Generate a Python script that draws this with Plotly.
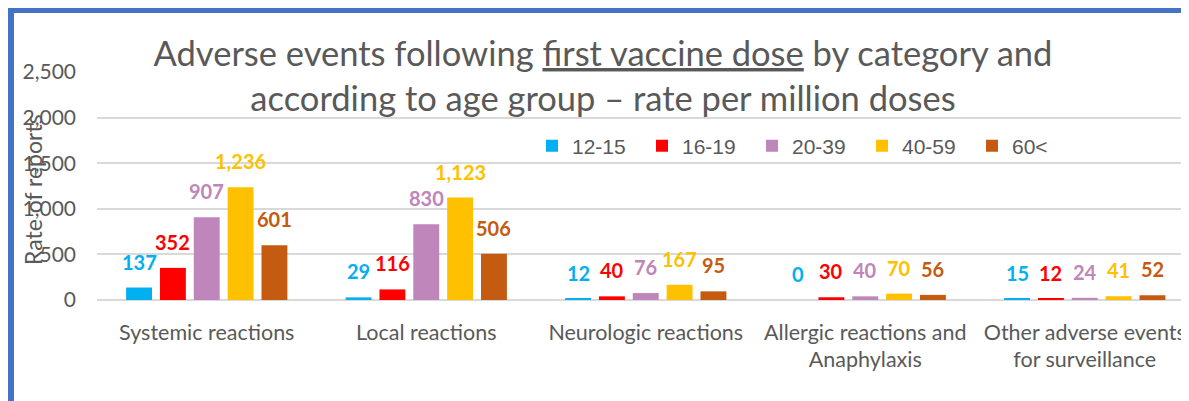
import plotly.graph_objects as go

categories = [
    "Systemic reactions",
    "Local reactions",
    "Neurologic reactions",
    "Allergic reactions and<br>Anaphylaxis",
    "Other adverse events<br>for surveillance",
]
age_groups = ["12-15", "16-19", "20-39", "40-59", "60<"]
rates = {
    "12-15": [137, 29, 12, 0, 15],
    "16-19": [352, 116, 40, 30, 12],
    "20-39": [907, 830, 76, 40, 24],
    "40-59": [1236, 1123, 167, 70, 41],
    "60<": [601, 506, 95, 56, 52],
}
y_ticks = [0, 500, 1000, 1500, 2000, 2500]

COLORS = {
    "12-15": "#00B0F0",
    "16-19": "#FF0000",
    "20-39": "#BE86BA",
    "40-59": "#FFC000",
    "60<": "#C55A11",
}
GRAY = "#595959"
GRID = "#D9D9D9"
BORDER = "#4472C4"
FONT = "Lato, Open Sans, sans-serif"

# the page puts the figure 8px in from the window corner, so size and place in figure px
OFF = 8
W, H = 1189 - OFF, 401 - OFF
L, T = 97 - OFF, 72 - OFF
pw, ph = W - L, 228
B = H - T - ph
CAT_PX = 219.5
BARGAP, GROUPGAP = 0.229, 0.235
slot = CAT_PX * (1 - BARGAP) / len(age_groups)


def px_x(win_x):
    return (win_x - OFF - L) / pw


def px_y(win_y):
    return (T + ph - (win_y - OFF)) / ph


fig = go.Figure()
for k, g in enumerate(age_groups):
    fig.add_trace(go.Bar(
        x=list(range(len(categories))), y=rates[g], name=g,
        marker=dict(color=COLORS[g], line=dict(width=0)),
    ))
    # value labels sit a little higher above the bars than plotly's own outside text
    for i, v in enumerate(rates[g]):
        fig.add_annotation(
            x=i, y=v, xref="x", yref="y", text=f"{v:,}", showarrow=False,
            xshift=(k - 2) * slot, yshift=26, yanchor="middle",
            font=dict(family=FONT, size=20, color=COLORS[g], weight="bold"),
        )

# frame around the chart, partly outside the visible window
fig.add_shape(
    type="rect", xref="paper", yref="paper",
    x0=px_x(10.5), x1=1.2, y0=-1.0, y1=px_y(9.5),
    line=dict(color=BORDER, width=7), layer="above",
)

fig.add_annotation(
    text="Rate of reports", textangle=-90, showarrow=False,
    xref="paper", yref="paper", x=px_x(33), y=px_y(190),
    xanchor="center", yanchor="middle",
    font=dict(family=FONT, size=23, color=GRAY),
)

fig.update_layout(
    width=W, height=H,
    margin=dict(l=L, r=0, t=T, b=B, autoexpand=False),
    paper_bgcolor="white", plot_bgcolor="white",
    barmode="group", bargap=BARGAP, bargroupgap=GROUPGAP,
    font=dict(family=FONT, color=GRAY),
    showlegend=True,
    title=dict(
        text="Adverse events following <u>first vaccine dose</u> by category and<br>"
             "according to age group \u2013 rate per million doses",
        x=(603 - OFF) / W, xanchor="center", y=1 - (66 - OFF) / H, yanchor="middle",
        font=dict(family=FONT, size=34.5, color=GRAY),
    ),
    legend=dict(
        orientation="h", x=px_x(532), xanchor="left",
        y=px_y(146), yanchor="middle",
        entrywidth=65, entrywidthmode="pixels",
        font=dict(family="Liberation Sans, Arial, sans-serif", size=21, color=GRAY),
        bgcolor="rgba(0,0,0,0)",
    ),
    xaxis=dict(
        tickmode="array", tickvals=list(range(len(categories))), ticktext=categories,
        range=[-0.5, pw / CAT_PX - 0.5], tickangle=0, automargin=False,
        showgrid=False, showline=False, zeroline=False, ticks="",
        tickfont=dict(family=FONT, size=21.5, color=GRAY),
        ticklabelstandoff=17,
    ),
    yaxis=dict(
        range=[0, 2500], tickvals=y_ticks, tickformat=",", automargin=False,
        showgrid=True, gridcolor=GRID, gridwidth=1.5,
        zeroline=True, zerolinecolor=GRID, zerolinewidth=1.5,
        tickfont=dict(family=FONT, size=21, color=GRAY),
        ticklabelstandoff=20,
    ),
)

fig.write_html("out.html")
